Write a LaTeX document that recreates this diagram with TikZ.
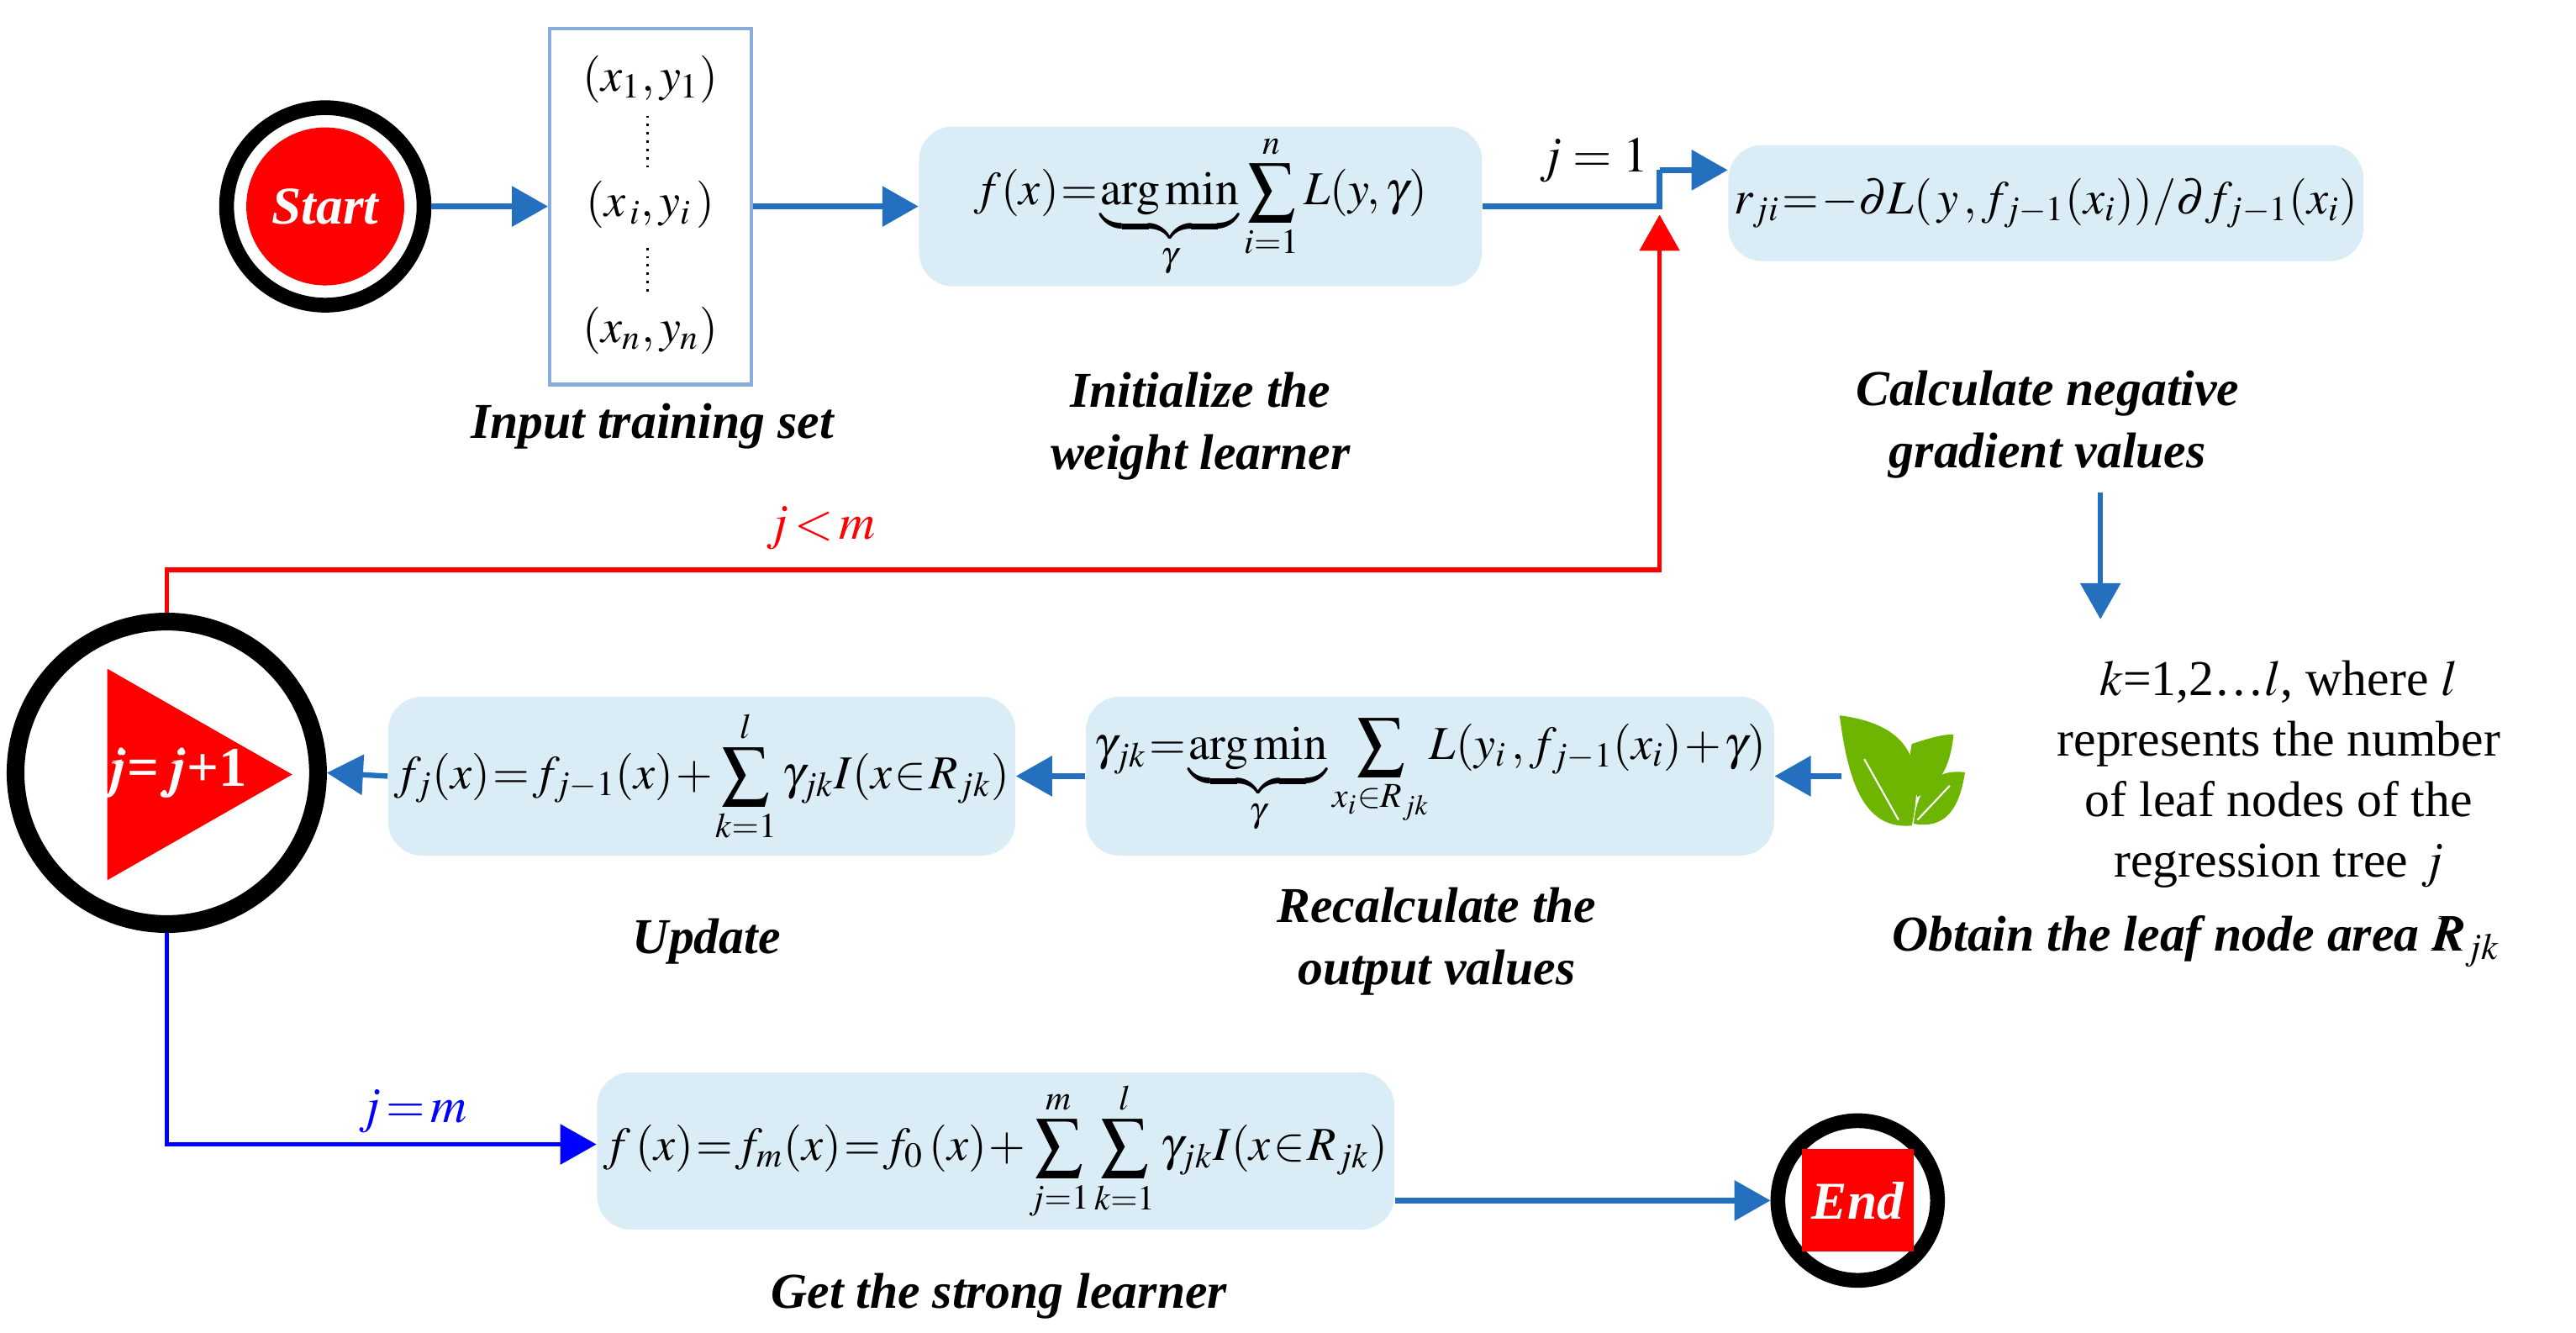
\documentclass[tikz,border=0pt]{standalone}
\usepackage{amsmath}
\usepackage{mathptmx}
\usepackage{bm}
\usepackage{fontspec}
\setmainfont{Liberation Serif}
\usetikzlibrary{arrows.meta}
\definecolor{bx}{HTML}{DAEDF7}
\definecolor{ab}{HTML}{2470BE}
\definecolor{ib}{HTML}{8AAEDC}
\definecolor{lf}{HTML}{6DB500}
\newcommand\tightmath{\thickmuskip=1mu plus 0mu\relax\medmuskip=1mu plus 0mu\relax}
\begin{document}
\begin{tikzpicture}[x=0.01965cm,y=-0.01965cm,
  box/.style={fill=bx,draw=none,rounded corners=0.4cm,inner sep=2pt,font=\fontsize{16}{19}\selectfont},
  lab/.style={font=\fontsize{17}{21}\selectfont\bfseries\itshape,align=center},
  ar/.style={draw=ab,line width=1.8pt,-{Triangle[length=0.43cm,width=0.47cm]}},
  ]
\useasboundingbox (0,0) rectangle (1560,807);
% Start
\node[circle,draw=black,line width=5pt,fill=white,minimum size=2.35cm] (st) at (197,125) {};
\node[circle,fill=red,minimum size=1.88cm,font=\fontsize{18}{20}\selectfont\bfseries\itshape,text=white] (s) at (197,125) {Start};
% input
\node[draw=ib,line width=1.2pt,minimum width=2.4cm,minimum height=4.24cm] (in) at (394,125) {};
\node[font=\fontsize{16}{19}\selectfont] at (394,48) {$(x_1,y_1)$};
\node[font=\fontsize{16}{19}\selectfont] at (394,124) {$(x_{\,i},y_i\,)$};
\node[font=\fontsize{16}{19}\selectfont] at (394,200) {$(x_n,y_n)$};
\draw[dotted,line width=0.8pt] (392,70)--(392,102) (392,150)--(392,180);
\node[lab] at (395,258) {Input training set};
% boxes
\node[box,minimum width=6.7cm,minimum height=1.9cm] (b1) at (727,125) {\tightmath$\displaystyle f(x)=\underbrace{\mathrm{arg\,min}}_{\gamma}\sum_{i=1}^{n}L(y,\gamma)$};
\node[box,minimum width=7.5cm,minimum height=1.38cm] (b2) at (1239,123) {\tightmath$r_{ji}=-\partial L(\,y\,,f_{j-1}(x_i))/\partial f_{j-1}(x_i)$};
\node[box,minimum width=8.19cm,minimum height=1.89cm] (b3) at (866,470) {\tightmath$\displaystyle \gamma_{jk}=\underbrace{\mathrm{arg\,min}}_{\gamma}\sum_{x_i\in R_{jk}}\!L(y_i\,,f_{j-1}(x_i)+\gamma)$};
\node[box,minimum width=7.39cm,minimum height=1.89cm] (b4) at (425,470) {\tightmath$\displaystyle f_j(x)=f_{j-1}(x)+\sum_{k=1}^{l}\gamma_{jk}I(x\in R_{jk})$};
\node[box,minimum width=9.49cm,minimum height=1.87cm] (b5) at (603,697) {\tightmath$\displaystyle f\,(x)=f_m(x)=f_0\,(x)+\sum_{j=1}^{m}\sum_{k=1}^{l}\gamma_{jk}I(x\in R_{jk})$};
\node[lab] at (727,258) {Initialize the\\weight learner};
\node[lab] at (1240,257) {Calculate negative\\gradient values};
\node[lab] at (870,570) {Recalculate the\\output values};
\node[lab] at (428,570) {Update};
\node[lab] at (1330,570) {Obtain the leaf node area $\bm{R_{jk}}$};
\node[lab] at (605,785) {Get the strong learner};
\node[font=\fontsize{17}{20.5}\selectfont,align=center] (tx) at (1380,469) {$k$=1,2\dots$l$, where $l$\\represents the number\\of leaf nodes of the\\regression tree $j$};
% leaf
\begin{scope}[shift={(1152,462)},scale=1.15]
\fill[lf] (-33,-25) .. controls (5,-20) and (12,0) .. (5,33) .. controls (-18,35) and (-28,15) .. cycle;
\fill[lf] (5,-10) .. controls (20,-15) and (24,-15) .. (27,-15) .. controls (25,5) and (18,12) .. (8,18) .. controls (4,8) and (3,0) .. cycle;
\fill[lf] (6,32) .. controls (8,10) and (20,3) .. (33,5) .. controls (30,25) and (22,35) .. cycle;
\draw[white,line width=0.6pt] (-20,-2) -- (-2,30);
\draw[white,line width=0.6pt] (8,30) -- (25,12);
\end{scope}
\coordinate (lf) at (1115,470);
% j=j+1 circle
\node[circle,draw=black,line width=6pt,fill=white,minimum size=3.6cm] (c) at (101,468) {};
\fill[red] (65,405) -- (177,469) -- (65,533) -- cycle;
\node[text=white,font=\fontsize{19}{22}\selectfont\bfseries] at (105,468) {$\bm{j}$=$\bm{j}$+1};
% End
\node[circle,draw=black,line width=5pt,fill=white,minimum size=1.9cm] (en) at (1125,727) {};
\node[fill=red,minimum size=1.22cm,text=white,font=\fontsize{18}{20}\selectfont\bfseries\itshape] at (1125,727) {End};
% arrows
\draw[ar] (st.east) -- (in.west);
\draw[ar] (in.east) -- (b1.west);
\coordinate (jn) at (1005,125);
\coordinate (ju) at (1005,103);
\draw[ab,line width=1.8pt] (b1.east) -- (jn) -- (ju);
\draw[ar] (ju) -- (b2.west |- ju);
\node[font=\fontsize{17}{20}\selectfont] at (965,97) {$j=1$};
\draw[ar] (1272,298) -- (1272,375);
\draw[ar] (lf) -- (b3.east);
\draw[ar] (b3.west) -- (b4.east);
\draw[ar] (b4.west) -- (c.east);
\coordinate (rt) at (101,345);
\coordinate (rr) at (1005,345);
\draw[red,line width=1.6pt,-{Triangle[length=0.43cm,width=0.47cm]}] (c.north) -- (rt) -- (rr) -- (1005,130);
\node[red,font=\fontsize{17}{20}\selectfont] at (497,320) {$j\!<\!m$};
\coordinate (bt) at (101,693);
\draw[blue,line width=1.6pt,-{Triangle[length=0.43cm,width=0.47cm]}] (c.south) -- (bt) -- (b5.west |- bt);
\node[blue,font=\fontsize{17}{20}\selectfont] at (250,673) {$j\!=\!m$};
\draw[ar] (b5.east |- en) -- (en.west);
\end{tikzpicture}
\end{document}
